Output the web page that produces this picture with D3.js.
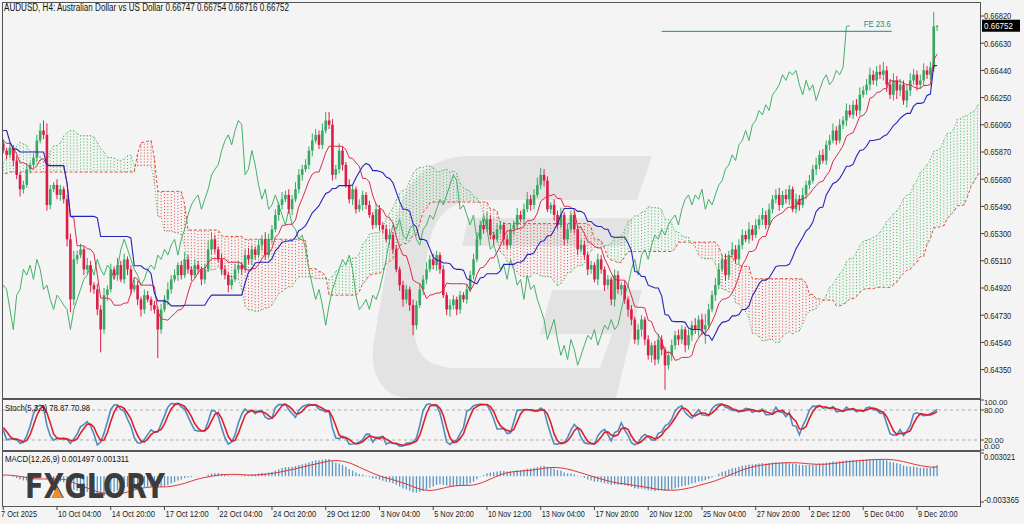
<!DOCTYPE html>
<html>
<head>
<meta charset="utf-8">
<script src="https://cdn.jsdelivr.net/npm/d3@7"></script>
<style>
    body { margin: 0; background: #f4f4f4; }
    svg { display: block; font-family: "Liberation Sans", Arial, sans-serif; }
</style>
</head>
<body>
<svg id="chart" width="1024" height="524"></svg>
<script>
//-------------------
// DATA
//-------------------
var PIP = 0.0001;
var firstOpen = 0.6607;

// bars before the visible window (only feed the Ichimoku / MACD look-back)
var priorClose = [
    0.6612,0.6608,0.6615,0.6610,0.6603,0.6598,0.6605,0.6611,0.6606,0.6600,
    0.6594,0.6590,0.6597,0.6603,0.6599,0.6592,0.6588,0.6595,0.6601,0.6607,
    0.6604,0.6612,0.6618,0.6615,0.6622,0.6628,0.6625,0.6631,0.6636,0.6624,
    0.6615,0.6603,0.6596,0.6584,0.6572,0.6563,0.6551,0.6540,0.6532,0.6524,
    0.6531,0.6545,0.6552,0.6548,0.6560,0.6571,0.6566,0.6579,0.6588,0.6597,
    0.6605,0.6614,0.6622,0.6630,0.6625,0.6612,0.6600,0.6591,0.6584,0.6578,
    0.6570,0.6575,0.6583,0.6592,0.6601,0.6608,0.6599,0.6593,0.6600,0.6596,
    0.6589,0.6593,0.6600,0.6596,0.6590,0.6594,0.6599,0.6593
];
var priorUp = [
    3,2,4,3,2,3,4,2,3,2, 3,4,2,3,4,2,3,4,3,2, 3,4,2,3,4,3,2,4,6,3,
    2,3,2,4,3,2,3,4,2,3, 2,3,4,3,2,4,3,2,3,4, 3,2,4,3,14,3,2,4,3,2,
    3,4,2,3,3,10,2,4,3,2, 3,2,4,3,2,3,4,2
];
var priorDn = [
    2,3,2,4,3,2,3,4,2,3, 3,2,4,3,2,3,2,4,3,2, 2,3,4,2,3,2,4,3,2,3,
    3,4,3,2,4,3,2,3,4,3, 22,3,2,4,3,2,3,2,4,3, 2,3,2,3,2,4,3,2,3,2,
    10,3,2,3,2,3,4,3,2,3, 3,2,4,3,2,3,4,3
];

// visible H4 bars, 7 Oct 2025 12:00 .. 10 Dec 2025
var barClose = [
    0.6588,0.6585,0.6590,0.6581,0.6571,0.6561,0.6564,0.6575,0.6578,0.6583,
    0.6595,0.6602,0.6599,0.6550,0.6561,0.6564,0.6557,0.6561,0.6554,0.6526,
    0.6484,0.6512,0.6515,0.6519,0.6505,0.6508,0.6494,0.6491,0.6477,0.6463,
    0.6487,0.6491,0.6505,0.6501,0.6508,0.6498,0.6512,0.6505,0.6491,0.6494,
    0.6484,0.6477,0.6487,0.6484,0.6480,0.6477,0.6463,0.6477,0.6484,0.6491,
    0.6498,0.6501,0.6508,0.6501,0.6512,0.6505,0.6501,0.6508,0.6505,0.6498,
    0.6505,0.6519,0.6526,0.6519,0.6512,0.6505,0.6501,0.6494,0.6498,0.6505,
    0.6508,0.6505,0.6515,0.6512,0.6519,0.6515,0.6522,0.6526,0.6515,0.6526,
    0.6533,0.6543,0.6550,0.6554,0.6557,0.6547,0.6554,0.6561,0.6571,0.6575,
    0.6578,0.6588,0.6595,0.6599,0.6592,0.6602,0.6609,0.6606,0.6571,0.6575,
    0.6588,0.6578,0.6564,0.6554,0.6561,0.6547,0.6550,0.6557,0.6550,0.6543,
    0.6536,0.6547,0.6536,0.6533,0.6526,0.6529,0.6519,0.6505,0.6494,0.6484,
    0.6491,0.6480,0.6466,0.6480,0.6491,0.6498,0.6505,0.6512,0.6508,0.6515,
    0.6505,0.6487,0.6477,0.6480,0.6484,0.6477,0.6487,0.6484,0.6491,0.6501,
    0.6512,0.6526,0.6536,0.6533,0.6540,0.6529,0.6526,0.6533,0.6536,0.6526,
    0.6522,0.6533,0.6536,0.6543,0.6540,0.6547,0.6554,0.6550,0.6557,0.6564,
    0.6571,0.6567,0.6547,0.6550,0.6543,0.6536,0.6543,0.6526,0.6533,0.6543,
    0.6533,0.6519,0.6522,0.6515,0.6505,0.6508,0.6498,0.6512,0.6505,0.6494,
    0.6498,0.6484,0.6501,0.6491,0.6494,0.6484,0.6477,0.6470,0.6456,0.6463,
    0.6470,0.6456,0.6445,0.6452,0.6442,0.6456,0.6449,0.6438,0.6445,0.6452,
    0.6459,0.6456,0.6463,0.6452,0.6459,0.6466,0.6463,0.6470,0.6463,0.6466,
    0.6477,0.6487,0.6494,0.6505,0.6512,0.6501,0.6515,0.6519,0.6512,0.6522,
    0.6529,0.6526,0.6533,0.6529,0.6536,0.6540,0.6543,0.6536,0.6547,0.6554,
    0.6557,0.6550,0.6557,0.6554,0.6561,0.6547,0.6554,0.6550,0.6557,0.6564,
    0.6567,0.6575,0.6578,0.6585,0.6581,0.6592,0.6595,0.6602,0.6595,0.6606,
    0.6609,0.6616,0.6613,0.6620,0.6616,0.6627,0.6630,0.6634,0.6641,0.6637,
    0.6643,0.6641,0.6644,0.6634,0.6627,0.6637,0.6630,0.6634,0.6623,0.6630,
    0.6637,0.6641,0.6634,0.6637,0.6644,0.6641,0.6646,0.66747,0.66752
];
// wick lengths beyond the body, in pips
var upWick = [
    3,2,4,2,3,2,3,4,2,3, 4,5,7,8,3,2,4,3,2,3, 4,6,3,4,2,5,3,2,4,3,
    5,3,4,2,5,3,4,2,3,4, 3,2,4,3,2,3,2,4,3,5, 3,4,2,3,5,3,2,4,3,2,
    4,6,5,3,2,4,3,2,3,4, 3,2,4,5,3,2,4,3,5,4, 3,4,2,5,3,4,3,5,4,3,
    4,3,5,4,3,5,6,6,4,3, 5,3,2,4,3,2,4,3,2,3, 2,4,3,2,3,4,2,3,2,3,
    3,2,4,3,4,3,5,3,4,3, 2,3,2,4,3,2,3,2,4,3, 4,5,3,4,5,3,2,4,3,2,
    3,4,3,5,3,4,5,3,4,5, 5,4,3,2,4,3,5,2,4,3, 3,2,4,3,2,3,2,4,3,2,
    3,2,4,3,2,3,2,3,2,4, 3,2,3,2,3,4,3,2,3,4, 3,4,3,2,4,3,5,3,4,8,
    4,3,5,4,3,4,3,5,3,4, 4,3,5,3,4,3,5,3,4,3, 4,5,3,4,3,2,4,3,5,3,
    4,3,5,3,4,3,4,5,3,4, 3,5,4,3,4,5,3,4,5,3, 4,5,6,3,4,5,3,4,3,4,
    5,4,3,4,5,3,4,10,0.2
];
var dnWick = [
    2,3,2,4,3,5,3,2,3,2, 3,2,3,4,3,2,3,4,3,5, 9,4,3,2,4,3,5,3,4,16,
    3,4,2,3,4,2,3,4,3,2, 4,5,3,2,4,3,20,3,2,4, 3,2,4,3,2,3,4,2,3,4,
    3,2,4,3,2,4,3,5,3,2, 3,4,2,3,4,3,2,4,3,2, 3,2,4,3,2,3,4,2,3,4,
    2,3,4,2,3,3,2,3,4,3, 3,4,2,3,4,3,2,4,3,2, 3,2,4,3,2,4,3,2,4,5,
    3,4,7,3,2,4,3,2,3,4, 3,2,4,5,3,4,3,2,3,2, 3,2,4,3,2,3,4,2,3,4,
    3,2,4,3,2,3,2,4,3,2, 3,4,2,3,4,3,2,4,3,2, 3,4,2,3,4,3,2,4,3,4,
    3,4,5,3,4,3,5,4,3,4, 5,4,3,5,4,3,4,17,3,4, 3,4,3,5,3,4,3,5,4,10,
    3,2,4,3,2,4,3,2,3,4, 3,2,3,4,2,3,4,3,2,3, 3,4,2,3,4,2,3,4,2,3,
    3,2,4,3,2,3,4,2,3,2, 3,4,2,3,4,3,2,3,4,3, 4,3,4,5,3,4,6,4,3,5,
    4,3,4,3,4,3,4,3,3.1
];

var priceTicks = [0.66820, 0.66630, 0.66440, 0.66250, 0.66060, 0.65870, 0.65680,
                  0.65490, 0.65300, 0.65110, 0.64920, 0.64730, 0.64540, 0.64350];
var stochLevels = [80, 20];
var stochTicks = [100, 80, 20, 0];
var macdTicks = [0.003021, -0.003365];
var timeLabels = ["7 Oct 2025", "10 Oct 04:00", "14 Oct 20:00", "17 Oct 12:00", "22 Oct 04:00",
                  "24 Oct 20:00", "29 Oct 12:00", "3 Nov 04:00", "5 Nov 20:00", "10 Nov 12:00",
                  "13 Nov 04:00", "17 Nov 20:00", "20 Nov 12:00", "25 Nov 04:00", "27 Nov 20:00",
                  "2 Dec 12:00", "5 Dec 04:00", "9 Dec 20:00"];
var LABEL_STEP = 16;
var headerText = "AUDUSD, H4:  Australian Dollar vs US Dollar  0.66747 0.66754 0.66716 0.66752";
var stochReadout = [78.87, 70.98];
var macdReadout = [0.001497, 0.001311];
var feLevel = 0.66713, feFrom = 196, feTo = 264.5;

//-------------------
// LAYOUT
//-------------------
var svg = d3.select("#chart");
var R = 980, L = 2;
var MAIN = [2, 398], STO = [399, 450], MAC = [451, 506];
var BULL = "#37a862", BEAR = "#dc1e46";

var x = d3.scaleLinear().domain([0, 278]).range([3.25, 937.1]);
var yP = d3.scaleLinear().domain([0.64350, 0.66820]).range([369.6, 16]);
var yS = d3.scaleLinear().domain([0, 100]).range([450, 400]);
var yM = d3.scaleLinear().domain([macdTicks[1], macdTicks[0]]).range([502, 453]);

//-------------------
// BUILD BARS + INDICATORS
//-------------------
var N0 = priorClose.length;
var closes = priorClose.concat(barClose);
var ups = priorUp.concat(upWick), dns = priorDn.concat(dnWick);
var bars = closes.map((c, k) => {
    var o = k ? closes[k - 1] : firstOpen;
    return { k: k, i: k - N0, o: o, c: c,
             h: Math.max(o, c) + ups[k] * PIP, l: Math.min(o, c) - dns[k] * PIP };
});

function mid(k, n) {
    if (k - n + 1 < 0) return null;
    var s = bars.slice(k - n + 1, k + 1);
    return (d3.max(s, d => d.h) + d3.min(s, d => d.l)) / 2;
}
var tenkan = bars.map(d => ({ i: d.i, v: mid(d.k, 9) }));
var kijun = bars.map(d => ({ i: d.i, v: mid(d.k, 26) }));
var cloud = [];
bars.forEach(d => {
    var a = tenkan[d.k].v != null && kijun[d.k].v != null ? (tenkan[d.k].v + kijun[d.k].v) / 2 : null;
    var b = mid(d.k, 52);
    if (a != null && b != null) cloud.push({ i: d.i + 26, a: a, b: b });
});
cloud = cloud.filter(d => d.i >= -1);
var chikou = bars.filter(d => d.i >= 26).map(d => ({ i: d.i - 26, v: d.c }));

// MACD 12,26,9 (signal = SMA)
var e12 = closes[0], e26 = closes[0], macd = [];
closes.forEach((c, k) => {
    e12 = k ? e12 + 2 / 13 * (c - e12) : c;
    e26 = k ? e26 + 2 / 27 * (c - e26) : c;
    macd.push(e12 - e26);
});
var macdSig = macd.map((m, k) => k < 8 ? null : d3.mean(macd.slice(k - 8, k + 1)));

// Stochastic 5,3,3
var stoK = bars.map(d => {
    if (d.k < 6) return null;
    var num = 0, den = 0;
    for (var m = d.k - 2; m <= d.k; m++) {
        var s = bars.slice(m - 4, m + 1);
        var lo = d3.min(s, b => b.l), hi = d3.max(s, b => b.h);
        num += bars[m].c - lo; den += hi - lo;
    }
    return den ? 100 * num / den : 50;
});
var stoD = stoK.map((v, k) => k < 9 ? null : d3.mean(stoK.slice(k - 2, k + 1)));

//-------------------
// CLIPS
//-------------------
var defs = svg.append("defs");
[["clipMain", MAIN], ["clipSto", STO], ["clipMac", MAC]].forEach(c => {
    defs.append("clipPath").attr("id", c[0]).append("rect")
        .attr("x", L).attr("y", c[1][0]).attr("width", R - L).attr("height", c[1][1] - c[1][0]);
});

var gMain = svg.append("g").attr("clip-path", "url(#clipMain)");
var gSto = svg.append("g").attr("clip-path", "url(#clipSto)");
var gMac = svg.append("g").attr("clip-path", "url(#clipMac)");

// watermark
gMain.append("path")
    .attr("d", "M470,156 L652,156 L637,200 L482,200 C452,200 436,214 430,240 L416,318 C410,352 426,368 458,368" +
               " L600,368 L612,334 L540,334 L552,290 L642,290 L616,398 L410,398 C384,398 368,376 374,340" +
               " L392,236 C400,184 426,156 470,156 Z")
    .attr("fill", "#e3e3e3");
gMain.append("path")
    .attr("d", "M468,218 L633,218 L625,246 L462,246 Z")
    .attr("fill", "#e3e3e3");

// cloud as dotted vertical strokes
gMain.append("g").selectAll("line").data(cloud).join("line")
    .attr("x1", d => x(d.i)).attr("x2", d => x(d.i))
    .attr("y1", d => yP(d.a)).attr("y2", d => yP(d.b))
    .attr("stroke", d => d.a >= d.b ? "#3fb655" : "#e0443c")
    .attr("stroke-width", 1)
    .attr("stroke-dasharray", "1,2");

var line = d3.line().defined(d => d.v != null).x(d => x(d.i)).y(d => yP(d.v));
gMain.append("path").datum(cloud.map(d => ({ i: d.i, v: d.a })))
    .attr("d", line).attr("fill", "none").attr("stroke", "#3fb655")
    .attr("stroke-width", 1).attr("stroke-dasharray", "1,2");
gMain.append("path").datum(cloud.map(d => ({ i: d.i, v: d.b })))
    .attr("d", line).attr("fill", "none").attr("stroke", "#e0503a")
    .attr("stroke-width", 1).attr("stroke-dasharray", "3,2");

// chikou
gMain.append("path").datum(chikou).attr("d", line)
    .attr("fill", "none").attr("stroke", "#45b06a").attr("stroke-width", 1);

// candles
var vis = bars.filter(d => d.i >= 0);
gMain.append("g").selectAll("line").data(vis).join("line")
    .attr("x1", d => x(d.i)).attr("x2", d => x(d.i))
    .attr("y1", d => yP(d.h)).attr("y2", d => yP(d.l))
    .attr("stroke", d => d.c >= d.o ? BULL : BEAR).attr("stroke-width", 1);
gMain.append("g").selectAll("rect").data(vis).join("rect")
    .attr("x", d => x(d.i) - 1.3).attr("width", 2.6)
    .attr("y", d => yP(Math.max(d.o, d.c)))
    .attr("height", d => Math.max(1, Math.abs(yP(d.o) - yP(d.c))))
    .attr("fill", d => d.c >= d.o ? BULL : BEAR);

// tenkan / kijun
gMain.append("path").datum(tenkan.filter(d => d.i >= 0)).attr("d", line)
    .attr("fill", "none").attr("stroke", "#dc2a48").attr("stroke-width", 1);
gMain.append("path").datum(kijun.filter(d => d.i >= 0)).attr("d", line)
    .attr("fill", "none").attr("stroke", "#2424b8").attr("stroke-width", 1.1);

// FE 23.6
gMain.append("line")
    .attr("x1", x(feFrom)).attr("x2", x(feTo))
    .attr("y1", yP(feLevel)).attr("y2", yP(feLevel))
    .attr("stroke", "#1a8a8a").attr("stroke-width", 1);
gMain.append("text").attr("x", x(feTo) - 1).attr("y", yP(feLevel) - 4)
    .attr("text-anchor", "end").attr("font-size", 9.5).attr("fill", "#1a8a8a")
    .attr("textLength", 27).attr("lengthAdjust", "spacingAndGlyphs")
    .text("FE 23.6");

//-------------------
// STOCHASTIC
//-------------------
gSto.selectAll("line.lvl").data(stochLevels).join("line").attr("class", "lvl")
    .attr("x1", L).attr("x2", R).attr("y1", d => yS(d)).attr("y2", d => yS(d))
    .attr("stroke", "#a8a8a8").attr("stroke-dasharray", "3,3");
var sLine = d3.line().defined(d => d.v != null).x(d => x(d.i)).y(d => yS(d.v));
gSto.append("path").datum(vis.map(d => ({ i: d.i, v: stoK[d.k] })))
    .attr("d", sLine).attr("fill", "none").attr("stroke", "#4f8bbd").attr("stroke-width", 1.6);
gSto.append("path").datum(vis.map(d => ({ i: d.i, v: stoD[d.k] })))
    .attr("d", sLine).attr("fill", "none").attr("stroke", "#dd1f2a").attr("stroke-width", 1.6);

//-------------------
// MACD
//-------------------
gMac.append("g").selectAll("line").data(vis).join("line")
    .attr("x1", d => x(d.i)).attr("x2", d => x(d.i))
    .attr("y1", yM(0)).attr("y2", d => yM(macd[d.k]))
    .attr("stroke", "#5a95c4").attr("stroke-width", 1.3);
gMac.append("path")
    .datum(vis.map(d => ({ i: d.i, v: macdSig[d.k] })))
    .attr("d", d3.line().x(d => x(d.i)).y(d => yM(d.v)))
    .attr("fill", "none").attr("stroke", "#e03434").attr("stroke-width", 1);

//-------------------
// FRAMES
//-------------------
[MAIN, STO, MAC].forEach(p => {
    svg.append("rect").attr("x", L + 0.5).attr("y", p[0] + 0.5)
        .attr("width", R - L).attr("height", p[1] - p[0])
        .attr("fill", "none").attr("stroke", "#555").attr("stroke-width", 1);
});

//-------------------
// AXES + LABELS
//-------------------
var axisG = svg.append("g").attr("font-size", 9.5).attr("fill", "#222");
function rightTick(y, txt, dy, fs) {
    axisG.append("line").attr("x1", R).attr("x2", R + 4).attr("y1", y).attr("y2", y).attr("stroke", "#444");
    axisG.append("text").attr("x", R + 4).attr("y", y + (dy || 0)).attr("dy", "0.35em")
        .attr("font-size", fs || 9.5)
        .attr("textLength", txt.length * 3.9).attr("lengthAdjust", "spacingAndGlyphs").text(txt);
}
priceTicks.forEach(p => rightTick(yP(p), p.toFixed(5)));
stochTicks.forEach(v => rightTick(yS(v), v.toFixed(2), v === 100 ? 2 : v === 0 ? -4 : 0, 7.5));
macdTicks.forEach(v => rightTick(yM(v), v.toFixed(6), v > 0 ? 4 : -2, 9));

// last price box
var last = barClose[barClose.length - 1];
axisG.append("rect").attr("x", R + 2).attr("y", yP(last) - 6).attr("width", 38).attr("height", 12).attr("fill", "#000");
axisG.append("text").attr("x", R + 4).attr("y", yP(last)).attr("dy", "0.35em").attr("fill", "#fff")
    .attr("textLength", 29).attr("lengthAdjust", "spacingAndGlyphs").text(last.toFixed(5));

// time axis
var tickIdx = timeLabels.map((t, n) => n * LABEL_STEP);
axisG.selectAll("line.tt").data(tickIdx).join("line").attr("class", "tt")
    .attr("x1", d => x(d)).attr("x2", d => x(d)).attr("y1", MAC[1]).attr("y2", MAC[1] + 4)
    .attr("stroke", "#444");
axisG.selectAll("text.tl").data(timeLabels).join("text").attr("class", "tl")
    .attr("x", (d, n) => n ? x(tickIdx[n]) + 1 : 1).attr("y", 517)
    .attr("font-size", 9.5)
    .attr("textLength", d => d.length * 3.6).attr("lengthAdjust", "spacingAndGlyphs")
    .text(d => d);

// headers
svg.append("text").attr("x", 4).attr("y", 11).attr("font-size", 10).attr("fill", "#111")
    .attr("textLength", 285).attr("lengthAdjust", "spacingAndGlyphs").text(headerText);
svg.append("text").attr("x", 5).attr("y", 411).attr("font-size", 9.5).attr("fill", "#111")
    .attr("textLength", 85).attr("lengthAdjust", "spacingAndGlyphs")
    .text("Stoch(5,3,3) " + stochReadout.map(v => v.toFixed(2)).join(" "));
svg.append("text").attr("x", 5).attr("y", 462).attr("font-size", 9.5).attr("fill", "#111")
    .attr("textLength", 124).attr("lengthAdjust", "spacingAndGlyphs")
    .text("MACD(12,26,9) " + macdReadout.map(v => v.toFixed(6)).join(" "));

// logo
var logo = svg.append("g");
logo.append("text").attr("x", 25).attr("y", 498).attr("font-size", 33).attr("font-weight", 900)
    .attr("font-family", "'DejaVu Sans', sans-serif").attr("fill", "#3c3c3c")
    .attr("textLength", 140).attr("lengthAdjust", "spacingAndGlyphs").text("FXGLORY");
logo.append("polygon").attr("points", "51,498 57,487 63,498").attr("fill", "#f08a24");
</script>
</body>
</html>
